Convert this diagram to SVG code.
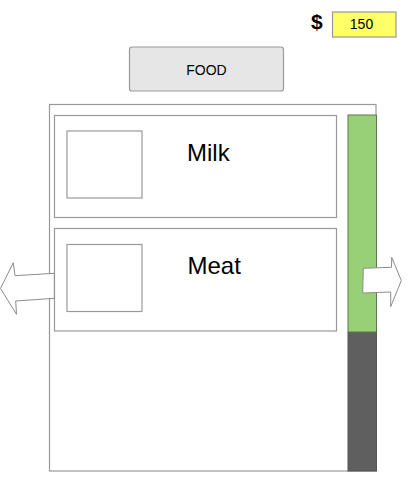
<svg xmlns="http://www.w3.org/2000/svg" width="412" height="487" viewBox="0 0 412 487">
<style>
.box{fill:#ffffff;stroke:#999999;stroke-width:1.2}
.t{font-family:"Liberation Sans",Arial,sans-serif;fill:#000}
.arrow{fill:#ffffff;stroke:#8c8c8c;stroke-width:1}
</style>
<rect width="412" height="487" fill="#ffffff"/>
<g id="money">
<text class="t" x="316.8" y="29" font-size="21" font-weight="bold" text-anchor="middle">$</text>
<rect x="332.5" y="12" width="63.5" height="25" fill="#ffff66" stroke="#999999" stroke-width="1.2"/>
<text class="t" x="361.5" y="29.3" font-size="14" text-anchor="middle">150</text>
</g>
<g id="food-button">
<rect x="129.5" y="47" width="154" height="44" rx="2.5" fill="#e6e6e6" stroke="#999999" stroke-width="1.2"/>
<text class="t" x="206.5" y="74.7" font-size="14" text-anchor="middle">FOOD</text>
</g>
<g id="panel">
<rect class="box" x="49.5" y="104.5" width="326.5" height="366.5"/>
</g>
<g id="item-milk">
<rect class="box" x="54.5" y="115.5" width="282" height="102"/>
<rect class="box" x="67" y="131" width="75" height="67"/>
<text class="t" x="187" y="160.7" font-size="24">Milk</text>
</g>
<g id="item-meat">
<rect class="box" x="54.5" y="228.5" width="282" height="102.5"/>
<rect class="box" x="67" y="244.5" width="75" height="67"/>
<text class="t" x="187.5" y="273.5" font-size="24">Meat</text>
</g>
<g id="scrollbar">
<rect x="348" y="332" width="28.5" height="139" fill="#5f5f5f" stroke="#555555" stroke-width="1"/>
<rect x="348" y="115" width="28.5" height="217" fill="#97d077" stroke="#5d7a4c" stroke-width="1"/>
</g>
<g id="connectors">
<polygon class="arrow" points="54.3,273.3 15,275.7 13.3,262.7 0.5,288.4 16.5,314.3 15.7,301 54.3,298.3"/>
<polygon class="arrow" points="363.3,268.3 391.5,267.3 391.7,257.3 401.3,280.5 390.7,306.7 390.7,292 362.7,293"/>
</g>
</svg>
